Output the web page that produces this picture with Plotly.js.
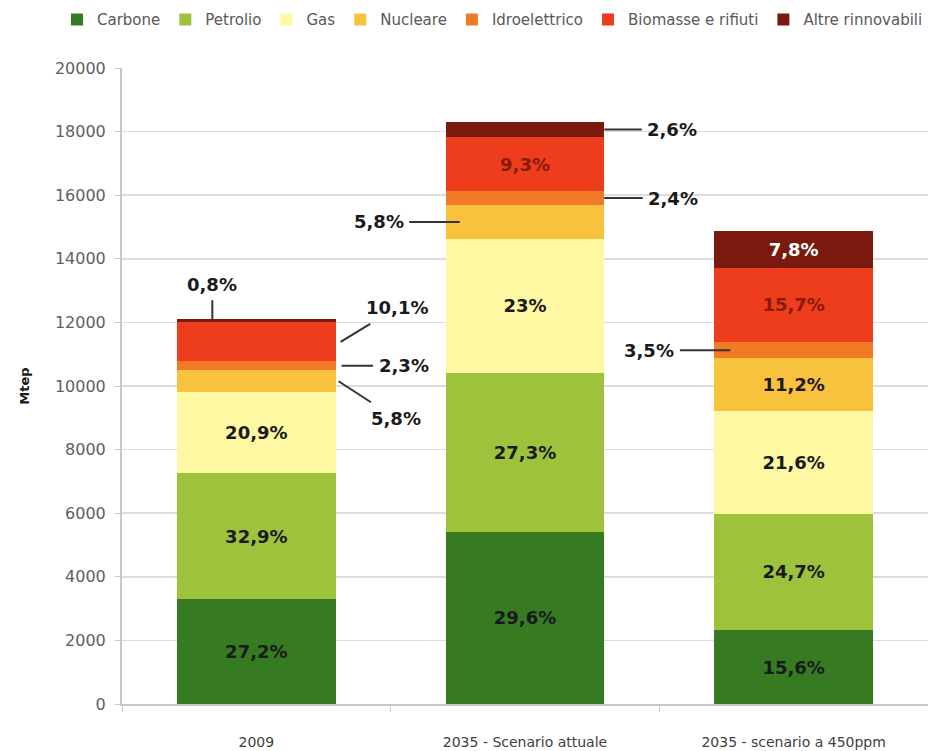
<!DOCTYPE html>
<html>
<head>
<meta charset="utf-8">
<script src="https://cdn.plot.ly/plotly-3.0.1.min.js"></script>
<style>
  html, body { margin: 0; padding: 0; background: #ffffff; }
  #chart { width: 928px; height: 751px; }
</style>
</head>
<body>
<div id="chart"></div>
<script>
// ---- data (Mtep) ----
const categories = ['2009', '2035 - Scenario attuale', '2035 - scenario a 450ppm'];
const seriesNames = ['Carbone', 'Petrolio', 'Gas', 'Nucleare', 'Idroelettrico', 'Biomasse e rifiuti', 'Altre rinnovabili'];

const carbone      = [3290, 5420, 2320];
const petrolio     = [3980, 5000, 3670];
const gas          = [2530, 4210, 3210];
const nucleare     = [700, 1060, 1665];
const idroelettrico = [280, 440, 520];
const biomasse     = [1220, 1700, 2335];
const altre        = [100, 475, 1160];

const pctCarbone   = ['27,2%', '29,6%', '15,6%'];
const pctPetrolio  = ['32,9%', '27,3%', '24,7%'];
const pctGas       = ['20,9%', '23%', '21,6%'];
const pctNucleare  = ['5,8%', '5,8%', '11,2%'];
const pctIdro      = ['2,3%', '2,4%', '3,5%'];
const pctBiomasse  = ['10,1%', '9,3%', '15,7%'];
const pctAltre     = ['0,8%', '2,6%', '7,8%'];

const yTicks = [0, 2000, 4000, 6000, 8000, 10000, 12000, 14000, 16000, 18000, 20000];

// ---- styling ----
const values = [carbone, petrolio, gas, nucleare, idroelettrico, biomasse, altre];
const pcts = [pctCarbone, pctPetrolio, pctGas, pctNucleare, pctIdro, pctBiomasse, pctAltre];
const colors = ['#367a22', '#9ec23c', '#fff8a3', '#f8c13e', '#f07a26', '#ee3d1d', '#7a1a0e'];
const textColors = ['#1a1a1a', '#1a1a1a', '#1a1a1a', '#1a1a1a', '#1a1a1a', '#8a1a0c', '#ffffff'];
const BAR_W = 0.59;
const LABEL_FONT = { family: 'DejaVu Sans', size: 18, color: '#1a1a1a', weight: 'bold' };

// callouts: [series index, category index, anchor ('top'|'mid'), side ('c'|'r'|'l'), inset px, ax, ay]
const callouts = [
  [6, 0, 'top', 'c', -44, 0, -35],
  [5, 0, 'mid', 'r', 5, 56, -34],
  [4, 0, 'mid', 'r', 6, 62, 0],
  [3, 0, 'mid', 'r', 3, 57, 37],
  [6, 1, 'mid', 'r', 0, 68, 0],
  [4, 1, 'mid', 'r', 0, 69, 0],
  [3, 1, 'mid', 'l', 14, -81, 0],
  [4, 2, 'mid', 'l', 16, -81, 0]
];
const isCallout = (s, c) => callouts.some(k => k[0] === s && k[1] === c);

const traces = seriesNames.map((name, s) => ({
  type: 'bar',
  name: name,
  x: categories,
  y: values[s],
  width: BAR_W,
  marker: { color: colors[s], line: { width: 0 } },
  text: pcts[s].map((t, c) => isCallout(s, c) ? '' : t),
  textposition: 'inside',
  insidetextanchor: 'middle',
  textangle: 0,
  constraintext: 'none',
  textfont: { family: 'DejaVu Sans', size: 18, color: textColors[s], weight: 'bold' },
  hoverinfo: 'skip'
}));

// cumulative positions from the data
function cumBase(s, c) {
  let b = 0;
  for (let i = 0; i < s; i++) b += values[i][c];
  return b;
}

const annotations = callouts.map(([s, c, anchor, side, inset, ax, ay]) => {
  const base = cumBase(s, c);
  const y = anchor === 'top' ? base + values[s][c] : base + values[s][c] / 2;
  let x = c;
  if (side === 'r') x = c + BAR_W / 2;
  else if (side === 'l') x = c - BAR_W / 2;
  return {
    x: x, y: y, xref: 'x', yref: 'y', xshift: inset,
    text: pcts[s][c],
    showarrow: true, arrowhead: 0, arrowwidth: 2, arrowcolor: '#333333',
    ax: ax, ay: ay, borderpad: 5,
    font: LABEL_FONT
  };
});

const layout = {
  width: 928,
  height: 751,
  margin: { l: 122, r: 0, t: 68, b: 47 },
  paper_bgcolor: '#ffffff',
  plot_bgcolor: '#ffffff',
  barmode: 'stack',
  showlegend: true,
  legend: {
    orientation: 'h',
    x: -0.074, xanchor: 'left',
    y: 1.076, yanchor: 'middle',
    font: { family: 'DejaVu Sans', size: 15, color: '#595959' },
    itemwidth: 30,
    tracegroupgap: 0,
    traceorder: 'normal',
    bgcolor: 'rgba(0,0,0,0)'
  },
  xaxis: {
    type: 'category',
    range: [-0.5, 2.5],
    showline: true, linecolor: '#c8c8c8', linewidth: 2,
    ticks: 'outside', tickson: 'boundaries', ticklen: 6, tickcolor: '#c8c8c8', tickwidth: 1,
    tickfont: { family: 'DejaVu Sans', size: 14, color: '#404040' },
    ticklabelstandoff: 24,
    showgrid: false, zeroline: false, fixedrange: true
  },
  yaxis: {
    range: [0, 20000],
    tickvals: yTicks,
    ticktext: yTicks.map(String),
    showline: true, linecolor: '#c8c8c8', linewidth: 2,
    ticks: 'outside', ticklen: 5, tickcolor: '#c8c8c8', tickwidth: 1,
    tickfont: { family: 'DejaVu Sans', size: 16, color: '#606060' },
    ticklabelstandoff: 6,
    showgrid: true, gridcolor: '#dcdcdc', gridwidth: 1.5,
    zeroline: false, fixedrange: true,
    title: { text: 'Mtep', font: { family: 'DejaVu Sans', size: 13, color: '#1a1a1a', weight: 'bold' }, standoff: 22 }
  },
  annotations: annotations,
  hovermode: false
};

Plotly.newPlot('chart', traces, layout, { displayModeBar: false, staticPlot: true });
</script>
</body>
</html>
